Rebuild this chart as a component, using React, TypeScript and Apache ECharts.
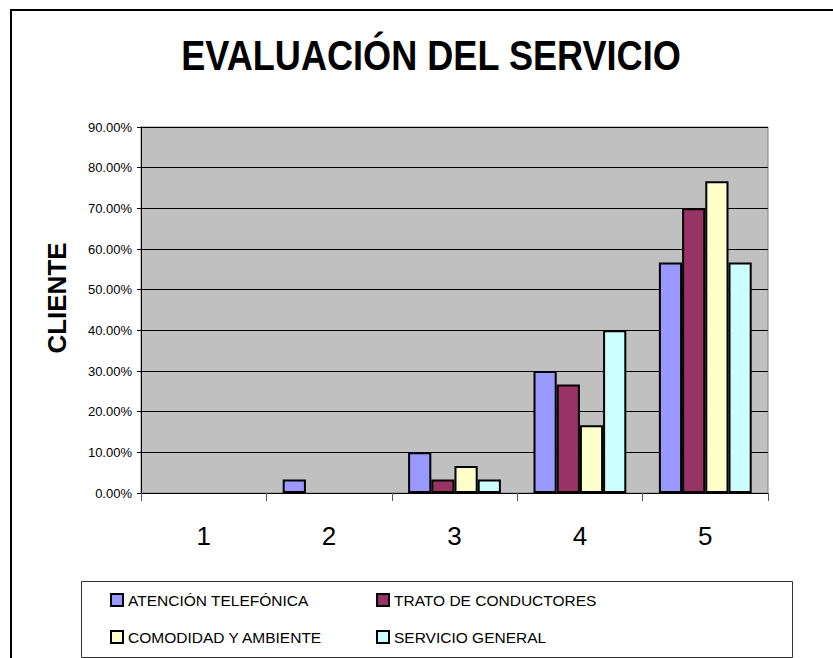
import React, { useEffect, useRef } from "react";
import * as echarts from "echarts";

const categories = ["1", "2", "3", "4", "5"];
const seriesNames = [
  "ATENCIÓN TELEFÓNICA",
  "TRATO DE CONDUCTORES",
  "COMODIDAD Y AMBIENTE",
  "SERVICIO GENERAL",
];
const atencionTelefonica = [0, 3.33, 10.0, 30.0, 56.67];
const tratoConductores = [0, 0, 3.33, 26.67, 70.0];
const comodidadAmbiente = [0, 0, 6.67, 16.67, 76.67];
const servicioGeneral = [0, 0, 3.33, 40.0, 56.67];
const seriesColors = ["#9999FF", "#993366", "#FFFFCC", "#CCFFFF"];
const yMax = 90;
const yInterval = 10;

const FONT = "'Liberation Sans', Arial, sans-serif";

export default function App() {
  const ref = useRef<HTMLDivElement>(null);
  useEffect(() => {
    if (!ref.current) return;
    const chart = echarts.init(ref.current, undefined, { renderer: "svg" });
    const values = [atencionTelefonica, tratoConductores, comodidadAmbiente, servicioGeneral];
    const legendText = { fontFamily: FONT, fontSize: 15.5, color: "#000" };
    chart.setOption({
      animation: false,
      backgroundColor: "#fff",
      graphic: [
        {
          type: "rect",
          shape: { x: 11, y: 10, width: 900, height: 700 },
          style: { fill: "none", stroke: "#000", lineWidth: 2 },
          silent: true,
        },
        {
          type: "rect",
          shape: { x: 81.5, y: 581.5, width: 711, height: 76 },
          style: { fill: "none", stroke: "#333", lineWidth: 1 },
          silent: true,
        },
        {
          type: "text",
          x: 431,
          y: 56,
          scaleX: 0.86,
          style: {
            text: "EVALUACIÓN DEL SERVICIO",
            fontFamily: FONT,
            fontWeight: "bold",
            fontSize: 42,
            fill: "#000",
            align: "center",
            verticalAlign: "middle",
          },
        },
        {
          type: "text",
          x: 57,
          y: 298,
          rotation: Math.PI / 2,
          style: {
            text: "CLIENTE",
            fontFamily: FONT,
            fontWeight: "bold",
            fontSize: 26,
            fill: "#000",
            align: "center",
            verticalAlign: "middle",
          },
        },
      ],
      legend: [
        {
          data: [seriesNames[0], seriesNames[2]],
          orient: "vertical",
          left: 110,
          top: 592,
          padding: 0,
          itemWidth: 12,
          itemHeight: 12,
          itemGap: 21,
          textStyle: legendText,
          icon: "rect",
        },
        {
          data: [seriesNames[1], seriesNames[3]],
          orient: "vertical",
          left: 376,
          top: 592,
          padding: 0,
          itemWidth: 12,
          itemHeight: 12,
          itemGap: 21,
          textStyle: legendText,
          icon: "rect",
        },
      ],
      grid: {
        left: 141,
        top: 127,
        right: 65,
        bottom: 165,
        show: true,
        backgroundColor: "#C0C0C0",
        borderColor: "#808080",
        borderWidth: 1,
      },
      xAxis: {
        type: "category",
        data: categories,
        axisLine: { lineStyle: { color: "#000", width: 1 } },
        axisTick: { show: true, length: 8, lineStyle: { color: "#555" } },
        axisLabel: { fontFamily: FONT, fontSize: 26, color: "#000", margin: 30 },
      },
      yAxis: {
        type: "value",
        min: 0,
        max: yMax,
        interval: yInterval,
        axisLine: { show: true, lineStyle: { color: "#000", width: 1 } },
        axisTick: { show: true, length: 4, lineStyle: { color: "#000" } },
        axisLabel: {
          fontFamily: FONT,
          fontSize: 13,
          color: "#000",
          margin: 9,
          formatter: (v: number) => v.toFixed(2) + "%",
        },
        splitLine: { show: true, lineStyle: { color: "#000", width: 1 } },
      },
      series: values.map((d, i) => ({
        name: seriesNames[i],
        type: "bar",
        data: d.map((v) => (v === 0 ? null : v)),
        barGap: "0%",
        barCategoryGap: "26%",
        itemStyle: { color: seriesColors[i], borderColor: "#000", borderWidth: 2 },
      })),
    });
    return () => chart.dispose();
  }, []);
  return (
    <div
      ref={ref}
      style={{ position: "fixed", left: 0, top: 0, width: 833, height: 658 }}
    />
  );
}
